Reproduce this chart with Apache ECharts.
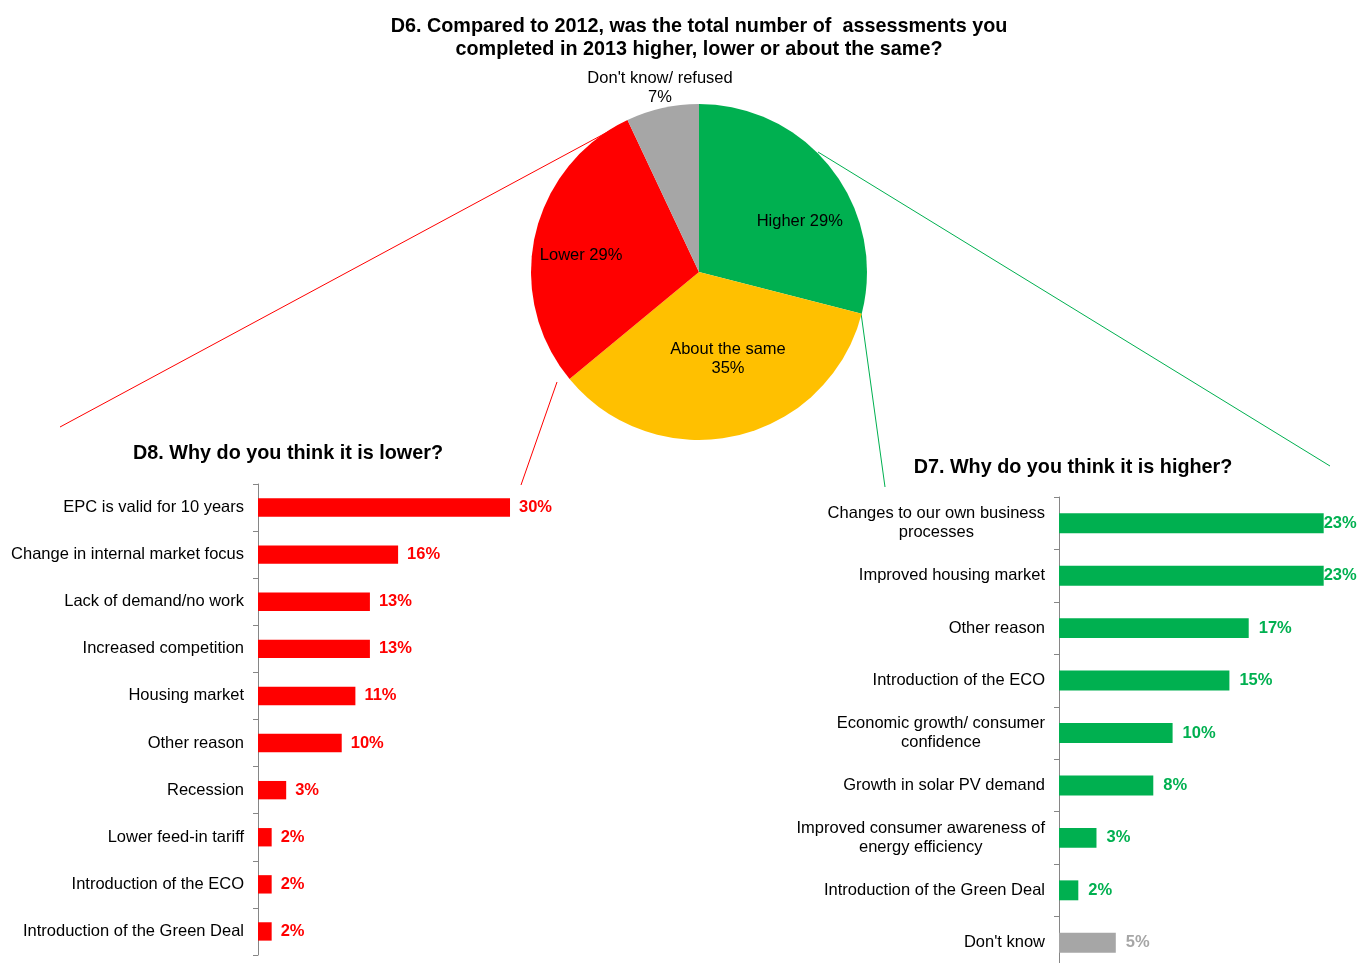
<!DOCTYPE html>
<html><head><meta charset="utf-8">
<script src="https://cdn.jsdelivr.net/npm/echarts@6/dist/echarts.min.js"></script>
<style>html,body{margin:0;padding:0;background:#fff;overflow:hidden}#c{width:1357px;height:970px}</style>
</head><body><div id="c"></div>
<script>
const pieCategories = ['Higher', 'About the same', 'Lower', "Don't know/ refused"];
const pieValues = [29, 35, 29, 7];

const lowerCategories = ['EPC is valid for 10 years', 'Change in internal market focus', 'Lack of demand/no work', 'Increased competition', 'Housing market', 'Other reason', 'Recession', 'Lower feed-in tariff', 'Introduction of the ECO', 'Introduction of the Green Deal'];
const lowerValues = [29.5, 16.4, 13.1, 13.1, 11.4, 9.8, 3.3, 1.6, 1.6, 1.6];

const higherCategories = ['Changes to our own business\nprocesses', 'Improved housing market', 'Other reason', 'Introduction of the ECO', 'Economic growth/ consumer\nconfidence', 'Growth in solar PV demand', 'Improved consumer awareness of\nenergy efficiency', 'Introduction of the Green Deal', "Don't know"];
const higherValues = [23.3, 23.3, 16.7, 15.0, 10.0, 8.3, 3.3, 1.7, 5.0];

const FONT = "'Liberation Sans', Arial, sans-serif";
const RED = '#FF0000', GREEN = '#00B050', YELLOW = '#FFC000', GREY = '#A6A6A6';
const FS = 16.5;

const chart = echarts.init(document.getElementById('c'));

const pieColors = [GREEN, YELLOW, RED, GREY];
const pieLabelOffsets = [[32, 3], [10, 2], [-33, 2], [-20, -99]];
const pieTwoLine = [false, true, false, true];

const catLabel = {
  fontFamily: FONT, fontSize: FS, color: '#000', margin: 14,
  formatter: v => v.split('\n').map(s => '{c|' + s + '}').join('\n'),
  rich: { c: { fontFamily: FONT, fontSize: FS, color: '#000', align: 'center', lineHeight: 19 } }
};
const axisLine = { show: true, lineStyle: { color: '#868686', width: 1 } };
const axisTick = { show: true, length: 5, lineStyle: { color: '#868686' } };
const titleStyle = { fontFamily: FONT, fontSize: 19.8, fontWeight: 'bold', color: '#000', lineHeight: 23 };

chart.setOption({
  animation: false,
  backgroundColor: '#fff',
  title: [
    { text: 'D6. Compared to 2012, was the total number of  assessments you\ncompleted in 2013 higher, lower or about the same?',
      left: 699, top: 15, padding: 0, textAlign: 'center', textStyle: titleStyle },
    { text: 'D8. Why do you think it is lower?', left: 288, top: 442, padding: 0, textAlign: 'center', textStyle: titleStyle },
    { text: 'D7. Why do you think it is higher?', left: 1073, top: 456, padding: 0, textAlign: 'center', textStyle: titleStyle }
  ],
  grid: [
    { left: 258, top: 484, width: 299, height: 471, containLabel: false },
    { left: 1059, top: 497, width: 284, height: 472, containLabel: false }
  ],
  xAxis: [
    { type: 'value', gridIndex: 0, min: 0, max: 35, show: false },
    { type: 'value', gridIndex: 1, min: 0, max: 25, show: false }
  ],
  yAxis: [
    { type: 'category', gridIndex: 0, data: lowerCategories, inverse: true,
      axisLine, axisTick, axisLabel: catLabel, splitLine: { show: false } },
    { type: 'category', gridIndex: 1, data: higherCategories, inverse: true,
      axisLine, axisTick, axisLabel: catLabel, splitLine: { show: false } }
  ],
  graphic: [
    { type: 'line', shape: { x1: 628, y1: 121, x2: 60, y2: 427 }, style: { stroke: RED, lineWidth: 1 } },
    { type: 'line', shape: { x1: 557, y1: 382, x2: 521, y2: 485 }, style: { stroke: RED, lineWidth: 1 } },
    { type: 'line', shape: { x1: 818, y1: 152, x2: 1330, y2: 466 }, style: { stroke: GREEN, lineWidth: 1 } },
    { type: 'line', shape: { x1: 861, y1: 313, x2: 885, y2: 487 }, style: { stroke: GREEN, lineWidth: 1 } }
  ],
  series: [
    {
      type: 'pie', center: [699, 272], radius: 168, startAngle: 90, clockwise: true,
      silent: true,
      labelLine: { show: false },
      data: pieCategories.map((n, i) => ({
        name: n, value: pieValues[i],
        itemStyle: { color: pieColors[i] },
        label: {
          show: true, position: 'inside', offset: pieLabelOffsets[i],
          fontFamily: FONT, fontSize: FS, color: '#000', lineHeight: 19, align: 'center',
          formatter: p => p.name + (pieTwoLine[i] ? '\n' : ' ') + p.value + '%'
        }
      }))
    },
    {
      type: 'bar', xAxisIndex: 0, yAxisIndex: 0, barCategoryGap: '61%',
      itemStyle: { color: RED },
      data: lowerValues,
      label: { show: true, position: 'right', distance: 9, fontFamily: FONT, fontSize: FS, fontWeight: 'bold', color: RED,
        formatter: p => Math.round(p.value) + '%' }
    },
    {
      type: 'bar', xAxisIndex: 1, yAxisIndex: 1, barCategoryGap: '62%',
      data: higherValues.map((v, i) => ({
        value: v,
        itemStyle: { color: higherCategories[i] === "Don't know" ? GREY : GREEN },
        label: { show: true, position: 'right', distance: v > 20 ? 0 : 10,
          fontFamily: FONT, fontSize: FS, fontWeight: 'bold',
          color: higherCategories[i] === "Don't know" ? GREY : GREEN,
          formatter: p => Math.round(p.value) + '%' }
      }))
    }
  ]
});
</script></body></html>
